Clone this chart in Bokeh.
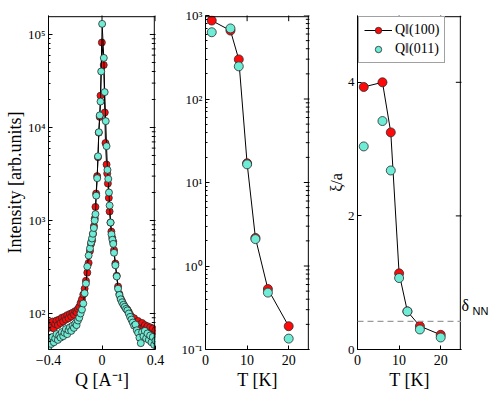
import math
from bokeh.plotting import figure
from bokeh.layouts import row
from bokeh.models import (LinearAxis, FixedTicker, CustomJSTickFormatter,
                          Span, Legend, LegendItem, Range1d)
from bokeh.embed import file_html
from bokeh.resources import INLINE

# ---------------- data ----------------
# Panel 1: Q scans (Q in 1/A, intensity in arb. units)
q_100 = [-0.40, -0.39, -0.38, -0.37, -0.36, -0.35, -0.34, -0.33, -0.32, -0.31,
         -0.30, -0.29, -0.28, -0.27, -0.26, -0.25, -0.24, -0.23, -0.22, -0.21,
         -0.20, -0.19, -0.18, -0.17, -0.16, -0.15, -0.14, -0.13, -0.12, -0.11,
         -0.10, -0.09, -0.082, -0.074, -0.067, -0.060, -0.054, -0.049, -0.044,
         -0.036, -0.030, -0.024, -0.017, -0.011, -0.001, 0.013, 0.021, 0.026,
         0.034, 0.039, 0.044, 0.051, 0.057, 0.064, 0.070, 0.077, 0.084,
         0.09, 0.10, 0.11, 0.12, 0.13, 0.14, 0.15, 0.16, 0.17, 0.18, 0.19,
         0.20, 0.21, 0.22, 0.23, 0.24, 0.25, 0.26, 0.27, 0.28, 0.29, 0.30,
         0.31, 0.32, 0.33, 0.34, 0.35, 0.36, 0.37, 0.38, 0.39, 0.40]
i_100 = [70, 80, 74, 82, 69, 77, 84, 75, 86, 79,
         90, 82, 92, 86, 96, 89, 99, 93, 102, 97,
         106, 103, 112, 118, 130, 142, 160, 185, 225, 275,
         350, 470, 560, 610, 720, 870, 1050, 1400, 1950,
         3000, 4800, 8800, 13000, 22000, 82000, 47000, 14500, 6800,
         4000, 3200, 2500, 1750, 1250, 950, 760, 650, 590,
         480, 345, 255, 195, 162, 145, 135, 126, 119, 113, 110,
         104, 97, 92, 86, 89, 81, 79, 83, 76, 73, 79,
         71, 75, 69, 73, 66, 71, 63, 69, 61, 66]

q_011 = [-0.40, -0.39, -0.38, -0.37, -0.36, -0.35, -0.34, -0.33, -0.32, -0.31,
         -0.30, -0.29, -0.28, -0.27, -0.26, -0.25, -0.24, -0.23, -0.22, -0.21,
         -0.20, -0.19, -0.18, -0.17, -0.16, -0.15, -0.14, -0.13, -0.12, -0.11,
         -0.10, -0.09, -0.082, -0.075, -0.068, -0.061, -0.055, -0.049, -0.043,
         -0.036, -0.030, -0.024, -0.017, -0.011, -0.006, 0.001, 0.0135, 0.020,
         0.028, 0.034, 0.041, 0.047, 0.052, 0.057, 0.064, 0.071, 0.078, 0.084,
         0.09, 0.10, 0.11, 0.12, 0.13, 0.14, 0.15, 0.16, 0.17, 0.18, 0.19,
         0.20, 0.21, 0.22, 0.23, 0.24, 0.25, 0.26, 0.27, 0.28, 0.29, 0.30,
         0.31, 0.32, 0.33, 0.34, 0.35, 0.36, 0.37, 0.38, 0.39, 0.40]
i_011 = [44, 50, 47, 56, 49, 54, 60, 52, 58, 55,
         63, 57, 62, 68, 60, 66, 71, 65, 74, 70,
         78, 75, 84, 90, 100, 110, 128, 165, 210, 320,
         420, 500, 580, 640, 720, 830, 1000, 1170, 1850,
         2850, 4900, 8900, 13500, 19000, 40000, 130000, 56000, 24000,
         11700, 6300, 3500, 2800, 2000, 1450, 950, 710, 620, 560,
         450, 330, 250, 185, 158, 142, 132, 124, 118, 112, 108,
         100, 92, 86, 80, 74, 76, 66, 62, 55, 48, 63,
         57, 65, 54, 61, 52, 58, 49, 56, 46, 51]

# Panels 2 and 3: temperature dependence
temps = [1.5, 6, 8, 10, 12, 15, 20]
amp_100 = [870, 660, 298, 17, 2.17, 0.53, 0.19]
amp_011 = [630, 700, 246, 16.5, 2.1, 0.48, 0.135]
xi_100 = [3.93, 4.0, 3.25, 1.14, 0.57, 0.35, 0.22]
xi_011 = [3.04, 3.42, 2.68, 1.07, 0.57, 0.30, 0.18]
delta_nn = 0.42

label_100 = "Q\u2016(100)"
label_011 = "Q\u2016(011)"

# tick values
q_ticks = [-0.4, 0, 0.4]
t_ticks = [0, 10, 20]
xi_ticks = [0, 2, 4]

# ---------------- style ----------------
RED = "#ff0a0a"
CYAN = "#6eecd6"
EDGE = "#2a2a2a"
SERIF = "Liberation Serif"
H = 393
TOP, BOTTOM = 15, 44
FW, FH = 107, 334
INSET = 1.2   # px: box edges drawn just inside the frame so they are not clipped

sup_fmt = CustomJSTickFormatter(code="""
const s = {'-':'\u207b','0':'\u2070','1':'\u00b9','2':'\u00b2','3':'\u00b3','4':'\u2074','5':'\u2075','6':'\u2076','7':'\u2077','8':'\u2078','9':'\u2079'};
const e = Math.round(Math.log10(tick));
return '10' + String(e).split('').map(c => s[c]).join('');
""")
lin_fmt = CustomJSTickFormatter(code="""
if (Math.abs(tick) < 1e-9) return '0';
return (tick < 0 ? '\u2212' : '') + String(Math.round(Math.abs(tick)*100)/100);
""")


def log_ticks(e0, e1):
    major = [10.0 ** e for e in range(e0, e1 + 1)]
    minor = [m * 10.0 ** e for e in range(e0 - 1, e1 + 1) for m in range(2, 10)]
    return major, minor


def style_axis(ax):
    ax.axis_line_color = "black"
    ax.axis_line_width = 1
    ax.major_tick_in = 4
    ax.major_tick_out = 0
    ax.minor_tick_in = 2
    ax.minor_tick_out = 0
    ax.major_tick_line_color = "black"
    ax.minor_tick_line_color = "black"
    ax.major_label_text_font = SERIF
    ax.major_label_text_font_size = "14px"
    ax.major_label_text_color = "black"
    ax.major_label_standoff = 5
    ax.axis_label_text_font = SERIF
    ax.axis_label_text_font_size = "18px"
    ax.axis_label_text_font_style = "normal"
    ax.axis_label_text_color = "black"
    ax.axis_label_standoff = 2


def make_fig(width, left, right, x_range, y_range, ylog, xmajor, ymajor, yminor,
             yfmt, xlabel, ylabel, ylabel_size="18px"):
    p = figure(width=width, height=H, x_range=x_range, y_range=y_range,
               y_axis_type="log" if ylog else "linear",
               output_backend="svg", toolbar_location=None,
               min_border_left=left, min_border_right=right,
               min_border_top=TOP, min_border_bottom=BOTTOM)
    p.grid.visible = False
    p.outline_line_color = None
    p.background_fill_color = "white"
    p.border_fill_color = "white"
    p.xaxis.ticker = FixedTicker(ticks=xmajor)
    p.yaxis.ticker = FixedTicker(ticks=ymajor, minor_ticks=yminor)
    p.xaxis.formatter = lin_fmt
    p.yaxis.formatter = yfmt
    p.xaxis.axis_label = xlabel
    if ylabel:
        p.yaxis.axis_label = ylabel
    for ax in p.xaxis + p.yaxis:
        style_axis(ax)
    p.yaxis.major_label_text_font_size = "13px"
    p.yaxis.major_label_standoff = 3
    p.yaxis.axis_label_standoff = 0
    p.yaxis.axis_label_text_font_size = ylabel_size
    # top and right edges of the box, drawn just inside the frame, with inward ticks
    x0, x1 = x_range.start, x_range.end
    y0, y1 = y_range.start, y_range.end
    x_in = x1 - INSET * (x1 - x0) / FW
    if ylog:
        y_in = y1 / 10 ** (INSET * math.log10(y1 / y0) / FH)
    else:
        y_in = y1 - INSET * (y1 - y0) / FH
    p.add_layout(Span(location=x_in, dimension="height", line_color="black", line_width=1))
    p.add_layout(Span(location=y_in, dimension="width", line_color="black", line_width=1))
    p.scatter([x_in] * len(ymajor), ymajor, marker="dash", size=9,
              line_color="black", line_width=1)
    if yminor:
        p.scatter([x_in] * len(yminor), yminor, marker="dash", size=5,
                  line_color="black", line_width=1)
    p.scatter(xmajor, [y_in] * len(xmajor), marker="dash", angle=math.pi / 2,
              size=9, line_color="black", line_width=1)
    return p


def text_axis(tick, txt, font, size):
    ax = LinearAxis(ticker=FixedTicker(ticks=[tick]),
                    formatter=CustomJSTickFormatter(code="return '%s';" % txt))
    ax.axis_line_color = None
    ax.major_tick_line_color = None
    ax.minor_tick_line_color = None
    ax.major_tick_in = 0
    ax.major_tick_out = 0
    ax.major_label_standoff = 0
    ax.axis_label_standoff = 0
    ax.major_label_text_font = font
    ax.major_label_text_font_size = size
    ax.major_label_text_color = "black"
    return ax


# ---------------- panel 1 ----------------
maj1, min1 = log_ticks(2, 5)
p1 = make_fig(178, 48, 23, Range1d(-0.4, 0.4), Range1d(41, 1.6e5), True,
              q_ticks, maj1, min1, sup_fmt,
              "Q [A\u207b\u00b9]", "Intensity [arb.units]")
p1.line(q_100, i_100, line_color="black", line_width=1)
p1.scatter(q_100, i_100, marker="circle", size=7, fill_color=RED,
           line_color=EDGE, line_width=0.8)
p1.line(q_011, i_011, line_color="black", line_width=1)
p1.scatter(q_011, i_011, marker="circle", size=7, fill_color=CYAN,
           line_color=EDGE, line_width=0.8)

# ---------------- panel 2 ----------------
maj2, min2 = log_ticks(-1, 3)
p2 = make_fig(146, 24, 15, Range1d(0, 25), Range1d(0.1, 1000), True,
              t_ticks, maj2, min2, sup_fmt, "T [K]", None)
p2.line(temps, amp_100, line_color="black", line_width=1)
p2.scatter(temps, amp_100, marker="circle", size=9, fill_color=RED,
           line_color=EDGE, line_width=0.8)
p2.scatter(temps, amp_011, marker="circle", size=9, fill_color=CYAN,
           line_color=EDGE, line_width=0.8)

# ---------------- panel 3 ----------------
p3 = make_fig(167, 32, 28, Range1d(0, 25), Range1d(0, 5), False,
              t_ticks, xi_ticks, [], lin_fmt, "T [K]", "\u03be/a", "16px")
p3.add_layout(Span(location=delta_nn, dimension="width", line_color="#9a9a9a",
                   line_width=1.3, line_dash="6 4"))
l3 = p3.line(temps, xi_100, line_color="black", line_width=1)
r3 = p3.scatter(temps, xi_100, marker="circle", size=9, fill_color=RED,
                line_color=EDGE, line_width=0.8)
c3 = p3.scatter(temps, xi_011, marker="circle", size=9, fill_color=CYAN,
                line_color=EDGE, line_width=0.8)
# delta_NN text placed as right-side axis labels beside the dashed line
p3.add_layout(text_axis(0.66, "\u03b4", SERIF, "16px"), "right")
p3.add_layout(text_axis(0.575, "NN", "Liberation Sans", "11px"), "right")

legend = Legend(items=[LegendItem(label=label_100, renderers=[l3, r3]),
                       LegendItem(label=label_011, renderers=[c3])],
                location=(1, 286), orientation="vertical",
                label_text_font=SERIF, label_text_font_size="14px",
                label_text_color="black",
                glyph_width=28, glyph_height=16, label_height=16,
                label_standoff=3, spacing=3, padding=5, margin=0,
                border_line_color="#444444", border_line_width=1,
                background_fill_color="white", background_fill_alpha=1)
p3.add_layout(legend)

layout = row(p1, p2, p3)
open("out.html", "w").write(file_html(layout, INLINE))
